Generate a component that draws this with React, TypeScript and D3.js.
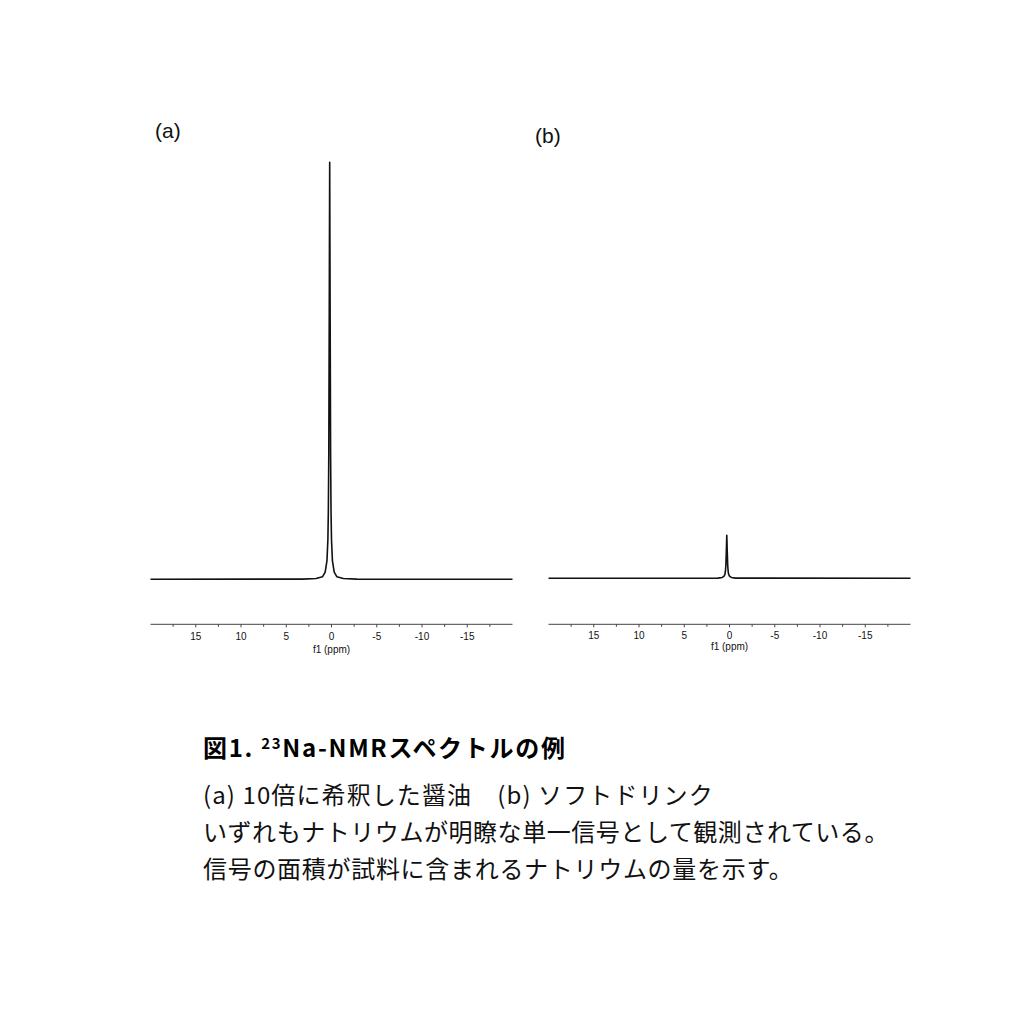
import React from "react";
import * as d3 from "d3";

// ---- data ----
const panelLabels = ["(a)", "(b)"];
const majorTicks = [15, 10, 5, 0, -5, -10, -15];
const minorTicks = [17.5, 12.5, 7.5, 2.5, -2.5, -7.5, -12.5, -17.5];
const axisTitle = "f1 (ppm)";
const ppmDomain = [20, -20];

// (a) soy sauce diluted 10x
const spectrumAPpm = [20, 3.2, 1.7, 1.0, 0.7, 0.5, 0.4, 0.35, 0.3, 0.25, 0.2, 0.15, 0.1, 0.05, 0, -0.1, -0.3, -0.6, -1.3, -2.8, -20];
const spectrumAInt = [0, 0.05, 0.2, 0.6, 1.7, 4.5, 9.5, 16, 30, 63, 100, 63, 30, 16, 9.5, 4.5, 1.7, 0.6, 0.2, 0.05, 0];

// (b) soft drink
const spectrumBPpm = [20, 1.3, 0.8, 0.6, 0.5, 0.45, 0.4, 0.35, 0.3, 0.25, 0.2, 0.15, 0.1, 0, -0.2, -0.7, -20];
const spectrumBInt = [0, 0.05, 0.2, 0.5, 1.0, 1.7, 3.2, 6.5, 10.3, 6.5, 3.2, 1.7, 1.0, 0.5, 0.2, 0.05, 0];

const captionTitleA = "図1. ";
const captionTitleSup = "23";
const captionTitleB = "Na-NMRスペクトルの例";
const captionLines = [
  "(a) 10倍に希釈した醤油　(b) ソフトドリンク",
  "いずれもナトリウムが明瞭な単一信号として観測されている。",
  "信号の面積が試料に含まれるナトリウムの量を示す。",
];
const captionSpacing = [1.1, 0.55, 0.7];

const LATIN = "'Liberation Sans', Arial, Helvetica, sans-serif";
const CJK = "'Noto Sans CJK JP', 'Noto Sans', sans-serif";

type PanelProps = {
  label: string;
  labelX: number;
  labelY: number;
  x0: number;
  x1: number;
  baseY: number;
  axisY: number;
  tickLabelY: number;
  titleY: number;
  ppm: number[];
  inten: number[];
};

function Panel(p: PanelProps) {
  const x = d3.scaleLinear().domain(ppmDomain).range([p.x0, p.x1]);
  const y = d3.scaleLinear().domain([0, 100]).range([p.baseY, p.baseY - 417]);
  const pts: [number, number][] = p.ppm.map((v, i) => [v, p.inten[i]]);
  const line = d3
    .line<[number, number]>()
    .x((d) => x(d[0]))
    .y((d) => y(d[1]));
  return (
    <g>
      <text x={p.labelX} y={p.labelY} fontFamily={LATIN} fontSize={21} fill="#111">
        {p.label}
      </text>
      <path d={line(pts) || ""} fill="none" stroke="#111" strokeWidth={1.6} strokeLinejoin="round" />
      <line x1={p.x0} x2={p.x1} y1={p.axisY} y2={p.axisY} stroke="#444" strokeWidth={1} />
      {majorTicks.map((t) => (
        <g key={"M" + t}>
          <line x1={x(t)} x2={x(t)} y1={p.axisY} y2={p.axisY + 3} stroke="#444" strokeWidth={1} />
          <text x={x(t)} y={p.tickLabelY} textAnchor="middle" fontFamily={LATIN} fontSize={10} fill="#111">
            {String(t)}
          </text>
        </g>
      ))}
      {minorTicks.map((t) => (
        <line key={"m" + t} x1={x(t)} x2={x(t)} y1={p.axisY} y2={p.axisY + 2.5} stroke="#444" strokeWidth={1} />
      ))}
      <text x={x(0)} y={p.titleY} textAnchor="middle" fontFamily={LATIN} fontSize={10} fill="#111">
        {axisTitle}
      </text>
    </g>
  );
}

export default function App() {
  return (
    <svg
      width={1024}
      height={1024}
      viewBox="0 0 1024 1024"
      style={{ position: "absolute", left: 0, top: 0, background: "#fff" }}
    >
      <rect width={1024} height={1024} fill="#fff" />
      <Panel
        label={panelLabels[0]}
        labelX={155}
        labelY={138}
        x0={150.5}
        x1={512.5}
        baseY={579.3}
        axisY={624.3}
        tickLabelY={639.5}
        titleY={653}
        ppm={spectrumAPpm}
        inten={spectrumAInt}
      />
      <Panel
        label={panelLabels[1]}
        labelX={535}
        labelY={143}
        x0={548.5}
        x1={910.5}
        baseY={578.3}
        axisY={624.3}
        tickLabelY={638.5}
        titleY={650}
        ppm={spectrumBPpm}
        inten={spectrumBInt}
      />
      <text x={203} y={757} fontFamily={CJK} fontSize={24} fontWeight={700} fill="#000" letterSpacing={1.7}>
        {captionTitleA}
        <tspan fontSize={15} dy={-8}>
          {captionTitleSup}
        </tspan>
        <tspan dy={8}>{captionTitleB}</tspan>
      </text>
      {captionLines.map((s, i) => (
        <text
          key={i}
          x={203}
          y={804 + i * 37}
          fontFamily={CJK}
          fontSize={24}
          fill="#111"
          letterSpacing={captionSpacing[i]}
        >
          {s}
        </text>
      ))}
    </svg>
  );
}
